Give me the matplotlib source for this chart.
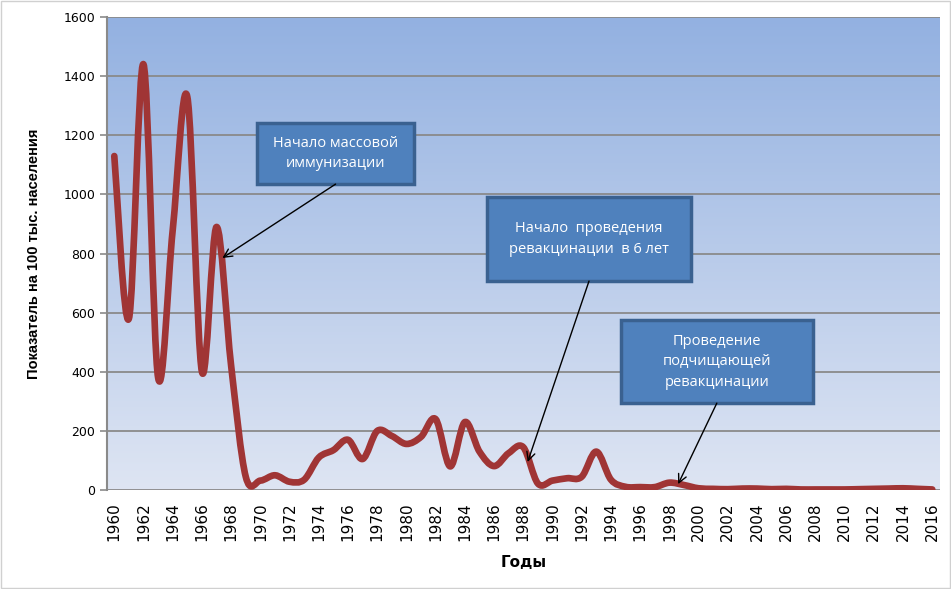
import numpy as np
import matplotlib.pyplot as plt
from matplotlib.path import Path
from matplotlib.patches import PathPatch, Rectangle

plt.rcParams['font.family'] = ['DejaVu Sans']

# данные: заболеваемость корью на 100 тыс. населения
years = list(range(1960, 2017))
values = [1130, 580, 1440, 380, 880, 1330, 400, 890, 420, 45,
          32, 50, 28, 35, 110, 135, 170, 105, 200, 183,
          156, 180, 240, 80, 230, 130, 81, 125, 145, 22,
          32, 40, 45, 130, 35, 11, 10, 10, 25, 17,
          6, 4, 3, 5, 5, 3, 4, 2, 2, 2,
          2, 3, 4, 5, 6, 4, 2]

y_ticks = [0, 200, 400, 600, 800, 1000, 1200, 1400, 1600]
x_ticks = list(range(1960, 2017, 2))

notes = ['Начало массовой\nиммунизации',
         'Начало  проведения\nревакцинации  в 6 лет',
         'Проведение\nподчищающей\nревакцинации']
note_targets = [(1967.4, 785), (1988.3, 95), (1998.6, 20)]


def smooth_path(xs, ys):
    # сглаженная линия как в Excel (Катмулл-Ром -> Безье)
    p = np.column_stack([xs, ys]).astype(float)
    ext = np.vstack([p[0], p, p[-1]])
    verts = [p[0]]
    codes = [Path.MOVETO]
    for i in range(len(p) - 1):
        p0, p1, p2, p3 = ext[i], ext[i + 1], ext[i + 2], ext[i + 3]
        verts += [p1 + (p2 - p0) / 6, p2 - (p3 - p1) / 6, p2]
        codes += [Path.CURVE4] * 3
    return Path(verts, codes)


fig = plt.figure(figsize=(9.51, 5.89), dpi=100)
ax = fig.add_axes([0.1125, 0.168, 0.8755, 0.803])

# градиентный фон области построения
top = np.array([147, 177, 225]) / 255
bottom = np.array([222, 229, 243]) / 255
t = np.linspace(0, 1, 256)[:, None]
grad = (top * (1 - t) + bottom * t)[:, None, :]
ax.imshow(grad, extent=[0, 1, 0, 1], transform=ax.transAxes,
          aspect='auto', zorder=0)

ax.set_xlim(1959.5, 2016.5)
ax.set_ylim(0, 1600)

for yv in y_ticks:
    ax.axhline(yv, color='#8a8a8a', lw=1.3, zorder=1)

ax.add_patch(PathPatch(smooth_path(years, values), fill=False,
                       edgecolor='#a03535', lw=4.8, capstyle='round',
                       joinstyle='round', zorder=3))

ax.set_yticks(y_ticks)
ax.set_xticks(x_ticks)
ax.set_xticklabels([str(x) for x in x_ticks], rotation=90, fontsize=11)
ax.tick_params(axis='y', labelsize=9, length=5, color='#8a8a8a', width=1.2)
ax.tick_params(axis='x', length=0, pad=9)
for s in ['top', 'right', 'bottom']:
    ax.spines[s].set_visible(False)
ax.spines['left'].set_color('#8a8a8a')
ax.spines['left'].set_linewidth(1.5)

ax.set_ylabel('Показатель на 100 тыс. населения', family='Liberation Sans',
              fontweight='bold', fontsize=10.5, labelpad=16)
ax.set_xlabel('Годы', family='Liberation Sans Narrow', fontweight='bold',
              fontsize=11, labelpad=10)

# выноски
boxes = [(1969.8, 1035, 10.7, 206), (1985.5, 707, 14.0, 284),
         (1994.7, 294, 13.1, 281)]
for text, (bx, by, bw, bh), tgt in zip(notes, boxes, note_targets):
    ax.add_patch(Rectangle((bx, by), bw, bh, facecolor='#4f81bd',
                           edgecolor='#3a6190', lw=2.5, zorder=4))
    ax.text(bx + bw / 2, by + bh / 2, text, ha='center', va='center',
            color='white', fontsize=10.5, family='Open Sans',
            linespacing=1.5, zorder=5)
    ax.annotate('', xy=tgt, xytext=(bx + bw / 2, by),
                arrowprops=dict(arrowstyle='->', color='black', lw=1,
                                mutation_scale=15, shrinkA=0, shrinkB=0),
                zorder=4)

fig.add_artist(Rectangle((0.001, 0.001), 0.998, 0.998, transform=fig.transFigure,
                         fill=False, edgecolor='#d0d0d0', lw=1))

fig.savefig('out.png', dpi=100)
